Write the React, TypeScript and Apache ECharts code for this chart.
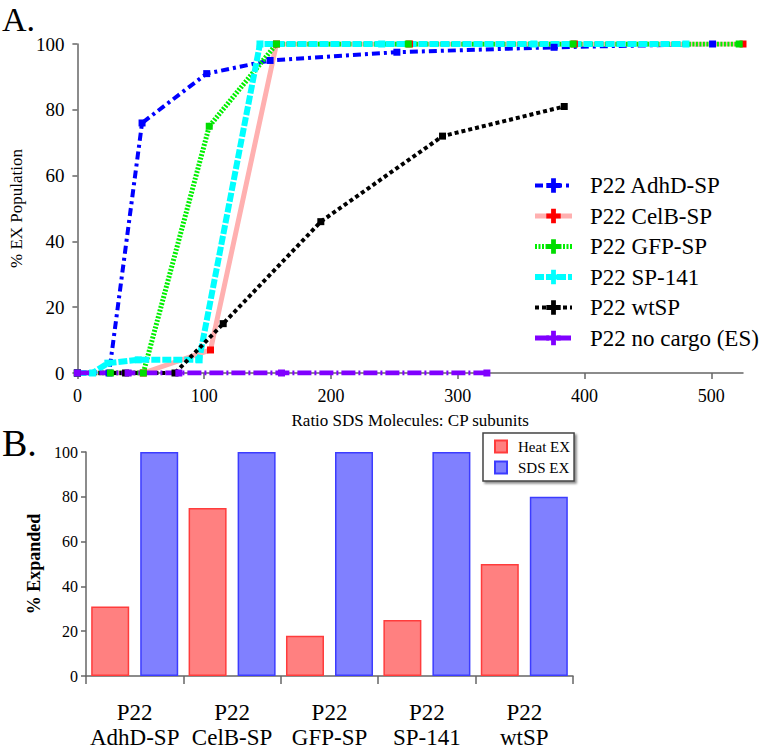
import React, { useEffect, useRef } from "react";
import * as echarts from "echarts";

// ---- Panel A data: ratio SDS molecules : CP subunits vs % EX population ----
const adhdX = [0, 25, 51, 102, 152, 252, 376, 501];
const adhdY = [0, 0, 76, 91, 95, 97.5, 99, 100];
const celbX = [0, 52, 105, 157, 262, 392, 525];
const celbY = [0, 0, 7, 100, 100, 100, 100];
const gfpX = [0, 26, 52, 104, 157, 261, 391, 522];
const gfpY = [0, 0, 0, 75, 100, 100, 100, 100];
const sp141X = [0, 12, 24, 48, 96, 144, 240, 360, 480];
const sp141Y = [0, 0, 3, 4, 4, 100, 100, 100, 100];
const wtspX = [0, 38, 77, 115, 192, 288, 384];
const wtspY = [0, 0, 0, 15, 46, 72, 81];
const nocargoX = [0, 40, 80, 161, 323];
const nocargoY = [0, 0, 0, 0, 0];
const xTicksA = [0, 100, 200, 300, 400, 500];

// ---- Panel B data ----
const categoriesB = ["P22\nAdhD-SP", "P22\nCelB-SP", "P22\nGFP-SP", "P22\nSP-141", "P22\nwtSP"];
const heatEx = [31, 75, 18, 25, 50];
const sdsEx = [100, 100, 100, 100, 80];

const FONT = "Liberation Serif";
const PLUS = "path://M4,0H8V4H12V8H8V12H4V8H0V4H4Z";

function pts(xs: number[], ys: number[]) {
  return xs.map((x, i) => ({ value: [x, ys[i]], symbol: "rect" }));
}

function lineSeries(name: string, xs: number[], ys: number[], color: string, markColor: string, width: number, type: any) {
  return {
    type: "line",
    name,
    xAxisIndex: 0,
    yAxisIndex: 0,
    data: pts(xs, ys),
    symbol: PLUS,
    symbolSize: 7,
    showAllSymbol: true,
    itemStyle: { color: markColor },
    lineStyle: { color, width, type },
    emphasis: { disabled: true },
  };
}

export default function App() {
  const ref = useRef<HTMLDivElement>(null);
  useEffect(() => {
    if (!ref.current) return;
    const chart = echarts.init(ref.current, null, { renderer: "svg" });
    const axisLine = { show: true, lineStyle: { color: "#666", width: 1.5 } };
    chart.setOption({
      animation: false,
      textStyle: { fontFamily: FONT },
      grid: [
        { left: 66, right: 20, top: 44, bottom: 377 },
        { left: 86, right: 190, top: 452, bottom: 67 },
      ],
      xAxis: [
        {
          gridIndex: 0,
          type: "value",
          min: 0,
          max: 525,
          offset: 4,
          splitLine: { show: false },
          axisLine,
          axisTick: { show: true, length: 6, customValues: xTicksA, lineStyle: { color: "#666", width: 1.5 } },
          axisLabel: { customValues: xTicksA, fontSize: 18, color: "#000", fontFamily: FONT, margin: 10 },
          name: "Ratio SDS Molecules: CP subunits",
          nameLocation: "middle",
          nameGap: 35,
          nameTextStyle: { fontSize: 17, color: "#000", fontFamily: FONT },
        },
        {
          gridIndex: 1,
          type: "category",
          data: categoriesB,
          axisLine,
          axisTick: { show: true, length: 8, lineStyle: { color: "#666", width: 1.5 } },
          axisLabel: { fontSize: 23, lineHeight: 25, color: "#000", fontFamily: FONT, margin: 24, interval: 0 },
        },
      ],
      yAxis: [
        {
          gridIndex: 0,
          type: "value",
          min: 0,
          max: 100,
          interval: 20,
          offset: 4,
          splitLine: { show: false },
          axisLine,
          axisTick: { show: true, length: 5, lineStyle: { color: "#666", width: 1.5 } },
          axisLabel: { fontSize: 19, color: "#000", fontFamily: FONT, margin: 9 },
          name: "% EX Population",
          nameLocation: "middle",
          nameGap: 45,
          nameTextStyle: { fontSize: 17, color: "#000", fontFamily: FONT },
        },
        {
          gridIndex: 1,
          type: "value",
          min: 0,
          max: 100,
          interval: 20,
          splitLine: { show: false },
          axisLine,
          axisTick: { show: true, length: 5, lineStyle: { color: "#666", width: 1.5 } },
          axisLabel: { fontSize: 16, color: "#000", fontFamily: FONT, margin: 8 },
          name: "% Expanded",
          nameLocation: "middle",
          nameGap: 36,
          nameTextStyle: { fontSize: 18, fontWeight: "bold", color: "#000", fontFamily: FONT },
        },
      ],
      legend: [
        {
          orient: "vertical",
          left: 532,
          top: 174,
          itemWidth: 37,
          itemHeight: 18,
          itemGap: 7.5,
          padding: 0,
          data: ["P22 AdhD-SP", "P22 CelB-SP", "P22 GFP-SP", "P22 SP-141", "P22 wtSP", "P22 no cargo (ES)"],
          textStyle: { fontSize: 23, color: "#000", fontFamily: FONT, padding: [0, 0, 0, 13] },
          lineStyle: { width: "inherit" },
          selectedMode: false,
        },
        {
          orient: "vertical",
          left: 483,
          top: 433,
          itemWidth: 12,
          itemHeight: 12,
          itemGap: 6,
          padding: [6, 4, 6, 11],
          borderColor: "#444",
          borderWidth: 1.5,
          shadowColor: "rgba(0,0,0,0.45)",
          shadowOffsetX: 2,
          shadowOffsetY: 2,
          shadowBlur: 2,
          backgroundColor: "#fff",
          icon: "rect",
          data: ["Heat EX", "SDS EX"],
          textStyle: { fontSize: 15, color: "#000", fontFamily: FONT, padding: [0, 0, 0, 6] },
          selectedMode: false,
        },
      ],
      graphic: [
        { type: "text", left: 2, top: 2, style: { text: "A.", font: `34px ${FONT}`, fill: "#000" } },
        { type: "text", left: 2, top: 424, style: { text: "B.", font: `38px ${FONT}`, fill: "#000" } },
      ],
      series: [
        lineSeries("P22 AdhD-SP", adhdX, adhdY, "#0000ff", "#0000ff", 4, [8, 4, 3, 4]),
        lineSeries("P22 CelB-SP", celbX, celbY, "#ffb0b0", "#ff0000", 5, "solid"),
        lineSeries("P22 GFP-SP", gfpX, gfpY, "#00f000", "#00dd00", 5, [2, 1.5]),
        lineSeries("P22 SP-141", sp141X, sp141Y, "#00ffff", "#00ffff", 6, [9, 2]),
        lineSeries("P22 wtSP", wtspX, wtspY, "#000000", "#000000", 4, [4, 3]),
        lineSeries("P22 no cargo (ES)", nocargoX, nocargoY, "#8000ff", "#8000ff", 5, [14, 3, 2, 3]),
        {
          type: "bar",
          name: "Heat EX",
          xAxisIndex: 1,
          yAxisIndex: 1,
          data: heatEx,
          barWidth: 38,
          barGap: "29%",
          itemStyle: { color: "#ff8080", borderColor: "#ff3c3c", borderWidth: 1.5 },
          emphasis: { disabled: true },
        },
        {
          type: "bar",
          name: "SDS EX",
          xAxisIndex: 1,
          yAxisIndex: 1,
          data: sdsEx,
          barWidth: 38,
          barGap: "29%",
          itemStyle: { color: "#8080ff", borderColor: "#3c3cff", borderWidth: 1.5 },
          emphasis: { disabled: true },
        },
      ],
    });
    return () => chart.dispose();
  }, []);
  return (
    <div
      ref={ref}
      style={{ position: "fixed", left: 0, top: 0, width: 763, height: 750, background: "#fff" }}
    />
  );
}
